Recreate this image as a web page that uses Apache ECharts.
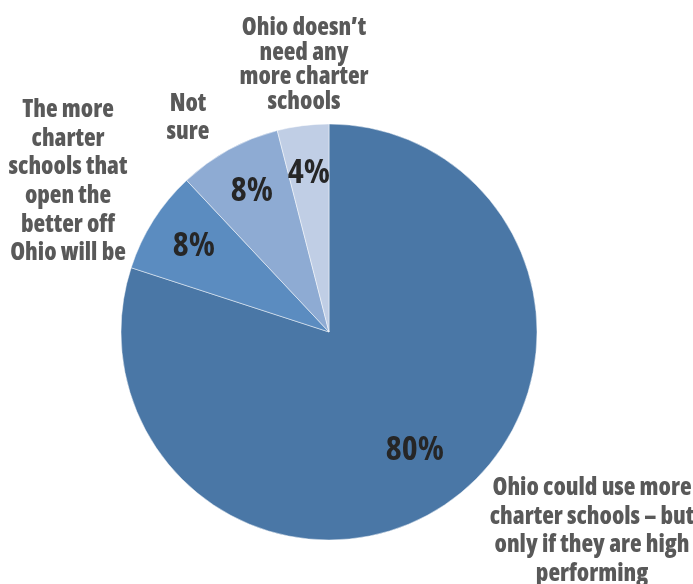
<!DOCTYPE html>
<html>
<head>
<meta charset="utf-8">
<script src="https://cdn.jsdelivr.net/npm/echarts@6/dist/echarts.min.js"></script>
<style>
  html, body { margin: 0; padding: 0; background: #fff; }
  #chart { width: 693px; height: 584px; }
</style>
</head>
<body>
<div id="chart"></div>
<script>
// Survey answers, clockwise from twelve o'clock
const categories = [
  'Ohio could use more\ncharter schools – but\nonly if they are high\nperforming',
  'The more\ncharter\nschools that\nopen the\nbetter off\nOhio will be',
  'Not\nsure',
  'Ohio doesn’t\nneed any\nmore charter\nschools'
];
const shares = [80, 8, 8, 4];
const sliceColors = ['#4a77a6', '#5b8cc0', '#8eabd3', '#c0cee5'];

const FONT = "'Open Sans', 'Liberation Sans Narrow', sans-serif";
const CAPTION_WEIGHT = '800 condensed';
const PCT_WEIGHT = 'bold condensed';

const cx = 329, cy = 332, R = 208;

const pieData = shares.map((v, i) => ({
  name: categories[i],
  value: v,
  itemStyle: { color: sliceColors[i] }
}));

// Category captions placed around the pie
const captionPlaces = [
  { x: 592, y: 474, lh: 28.5 },
  { x: 68, y: 96, lh: 28.6 },
  { x: 188, y: 90, lh: 28 },
  { x: 304, y: 16, lh: 24.5 }
];

const captions = categories.map((c, i) => ({
  type: 'text',
  x: captionPlaces[i].x,
  y: captionPlaces[i].y,
  style: {
    text: c,
    fill: '#595959',
    font: CAPTION_WEIGHT + ' 24px ' + FONT,
    textAlign: 'center',
    textVerticalAlign: 'top',
    lineHeight: captionPlaces[i].lh
  },
  silent: true
}));

function pctLabels(showIdx) {
  return pieData.map((d, i) => ({
    name: d.name,
    value: d.value,
    itemStyle: { color: 'rgba(0,0,0,0)', borderWidth: 0 },
    label: { show: showIdx.includes(i) }
  }));
}

const pctLabel = {
  position: 'inside',
  formatter: '{c}%',
  color: '#262626',
  fontSize: 34,
  fontWeight: PCT_WEIGHT,
  fontFamily: FONT
};

const chart = echarts.init(document.getElementById('chart'), null, { renderer: 'canvas' });
chart.setOption({
  animation: false,
  backgroundColor: '#fff',
  series: [
    {
      type: 'pie',
      center: [cx, cy],
      radius: [0, R],
      startAngle: 90,
      clockwise: true,
      silent: true,
      label: { show: false },
      labelLine: { show: false },
      itemStyle: { borderColor: 'rgba(255,255,255,0.6)', borderWidth: 0.8 },
      data: pieData
    },
    {
      type: 'pie',
      center: [cx, cy],
      radius: [78, 208],
      startAngle: 90,
      silent: true,
      label: pctLabel,
      labelLine: { show: false },
      data: pctLabels([0])
    },
    {
      type: 'pie',
      center: [cx, cy],
      radius: [100, 214],
      startAngle: 90,
      silent: true,
      label: pctLabel,
      labelLine: { show: false },
      data: pctLabels([1, 2, 3])
    }
  ],
  graphic: captions
});
</script>
</body>
</html>
